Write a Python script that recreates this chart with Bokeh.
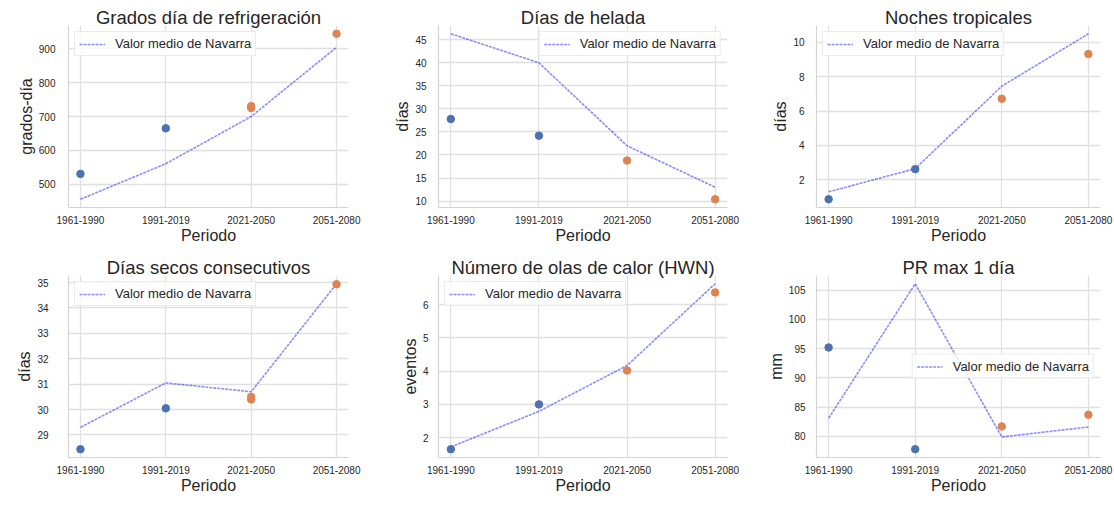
from bokeh.plotting import figure
from bokeh.models import Range1d, FixedTicker, Legend, LegendItem, ColumnDataSource
from bokeh.layouts import gridplot
from bokeh.embed import file_html
from bokeh.resources import INLINE

periodos = ["1961-1990", "1991-2019", "2021-2050", "2051-2080"]
obs_periodos = ["1961-1990", "1991-2019"]

# Grados día de refrigeración
media_gdr = [455, 560, 700, 905]
obs_gdr = [530, 665]
proy_per_gdr = ["2021-2050", "2021-2050", "2051-2080"]
proy_gdr = [725, 731, 945]
ticks_gdr = [500, 600, 700, 800, 900]

# Días de helada
media_dh = [46.3, 40.0, 22.0, 13.0]
obs_dh = [27.8, 24.2]
proy_per_dh = ["2021-2050", "2051-2080"]
proy_dh = [18.8, 10.4]
ticks_dh = [10, 15, 20, 25, 30, 35, 40, 45]

# Noches tropicales
media_nt = [1.3, 2.65, 7.45, 10.5]
obs_nt = [0.87, 2.62]
proy_per_nt = ["2021-2050", "2051-2080"]
proy_nt = [6.72, 9.32]
ticks_nt = [2, 4, 6, 8, 10]

# Días secos consecutivos
media_dsc = [29.3, 31.05, 30.7, 34.95]
obs_dsc = [28.44, 30.05]
proy_per_dsc = ["2021-2050", "2021-2050", "2051-2080"]
proy_dsc = [30.4, 30.5, 34.93]
ticks_dsc = [29, 30, 31, 32, 33, 34, 35]

# Número de olas de calor (HWN)
media_hwn = [1.72, 2.79, 4.17, 6.63]
obs_hwn = [1.65, 3.0]
proy_per_hwn = ["2021-2050", "2051-2080"]
proy_hwn = [4.02, 6.37]
ticks_hwn = [2, 3, 4, 5, 6]

# PR max 1 día
media_pr = [83.1, 106.1, 79.9, 81.6]
obs_pr = [95.2, 77.8]
proy_per_pr = ["2021-2050", "2051-2080"]
proy_pr = [81.7, 83.7]
ticks_pr = [80, 85, 90, 95, 100, 105]

FONT = "Liberation Sans"
TXT = "#262626"
GRID = "#e0e0e0"
BLUE = "#4c72b0"
ORANGE = "#dd8452"


def make(title, ylabel, media, obs, proy_per, proy, yticks, legend_loc,
         width, height, bl, br, bb, tick_standoff=6, title_offset=0):
    vals = media + obs + proy
    lo, hi = min(vals), max(vals)
    pad = 0.05 * (hi - lo)
    p = figure(width=width, height=height, output_backend="svg",
               toolbar_location=None,
               x_range=Range1d(-0.14, len(periodos) - 1 + 0.14),
               y_range=Range1d(lo - pad, hi + pad),
               min_border_left=bl, min_border_right=br,
               min_border_bottom=bb, min_border_top=25)
    p.title.text = title
    p.title.align = "center"
    p.title.offset = title_offset
    p.title.text_font = FONT
    p.title.text_font_size = "18.5px"
    p.title.text_font_style = "normal"
    p.title.text_color = TXT
    p.title.standoff = -4
    p.outline_line_color = None
    p.background_fill_color = "white"
    p.border_fill_color = "white"

    xs = list(range(len(periodos)))
    src = ColumnDataSource(dict(x=xs, y=media))
    ln = p.line("x", "y", source=src, line_color="blue", line_alpha=0.45,
                line_width=1.6, line_dash="3 1")
    p.scatter([periodos.index(k) for k in obs_periodos], obs, size=7.5,
              fill_color=BLUE, line_color=BLUE)
    p.scatter([periodos.index(k) for k in proy_per], proy, size=7.5,
              fill_color=ORANGE, line_color=ORANGE)

    p.xaxis.ticker = FixedTicker(ticks=xs)
    p.xaxis.major_label_overrides = {i: s for i, s in enumerate(periodos)}
    p.yaxis.ticker = FixedTicker(ticks=yticks)
    p.xaxis.axis_label = "Periodo"
    p.yaxis.axis_label = ylabel
    for ax in (p.xaxis[0], p.yaxis[0]):
        ax.axis_line_color = "#d4d4d4"
        ax.axis_line_width = 1.2
        ax.major_tick_line_color = None
        ax.minor_tick_line_color = None
        ax.major_label_text_font = FONT
        ax.major_label_text_font_size = "10px"
        ax.major_label_text_color = TXT
        ax.axis_label_text_font = FONT
        ax.axis_label_text_font_size = "16px"
        ax.axis_label_text_font_style = "normal"
        ax.axis_label_text_color = TXT
    p.xaxis.major_label_standoff = 2
    p.xaxis.axis_label_standoff = 0
    p.yaxis.major_label_standoff = tick_standoff
    p.yaxis.axis_label_standoff = 1
    for g in (p.xgrid[0], p.ygrid[0]):
        g.grid_line_color = GRID
        g.grid_line_width = 1.3

    leg = Legend(items=[LegendItem(label="Valor medio de Navarra", renderers=[ln])],
                 location=legend_loc)
    leg.label_text_font = FONT
    leg.label_text_font_size = "13px"
    leg.label_text_color = TXT
    leg.label_height = 14
    leg.glyph_height = 14
    leg.glyph_width = 26
    leg.label_standoff = 10
    leg.padding = 4
    leg.margin = 6
    leg.spacing = 0
    leg.border_line_color = "#d8d8d8"
    leg.border_line_width = 1
    leg.background_fill_color = "white"
    leg.background_fill_alpha = 0.8
    p.add_layout(leg)
    return p


H1, H2 = 250, 256
p1 = make("Grados día de refrigeración", "grados-día", media_gdr, obs_gdr,
          proy_per_gdr, proy_gdr, ticks_gdr, "top_left", 370, H1, 68, 22, 43, 7, -7)
p2 = make("Días de helada", "días", media_dh, obs_dh,
          proy_per_dh, proy_dh, ticks_dh, "top_right", 370, H1, 68, 13, 43, 6, -3)
p3 = make("Noches tropicales", "días", media_nt, obs_nt,
          proy_per_nt, proy_nt, ticks_nt, "top_left", 374, H1, 70, 14, 43, 6, -4)
p4 = make("Días secos consecutivos", "días", media_dsc, obs_dsc,
          proy_per_dsc, proy_dsc, ticks_dsc, "top_left", 370, H2, 62, 21, 49, 14, -4)
p5 = make("Número de olas de calor (HWN)", "eventos", media_hwn, obs_hwn,
          proy_per_hwn, proy_hwn, ticks_hwn, "top_left", 370, H2, 61, 13, 49, 4, -1)
p6 = make("PR max 1 día", "mm", media_pr, obs_pr,
          proy_per_pr, proy_pr, ticks_pr, "center_right", 374, H2, 76, 14, 49, 5, -6)

grid = gridplot([[p1, p2, p3], [p4, p5, p6]], toolbar_location=None)
open("out.html", "w").write(file_html(grid, INLINE))
